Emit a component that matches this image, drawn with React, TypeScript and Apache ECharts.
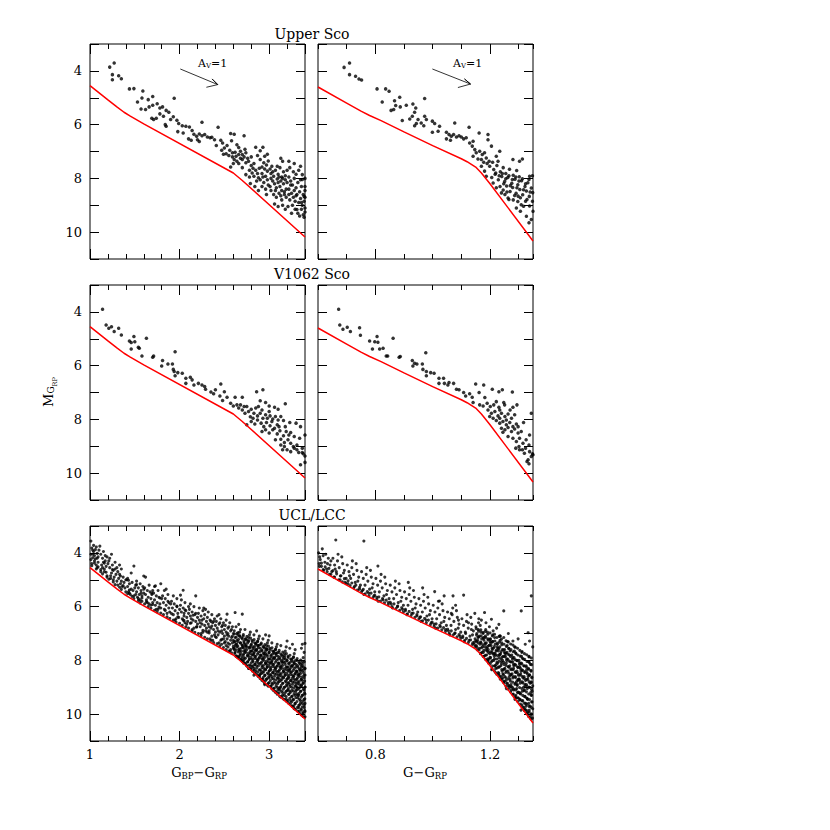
import React, { useEffect, useRef } from "react";
import * as echarts from "echarts";

const FONT = '"DejaVu Serif", "Liberation Serif", serif';

const panelTitles = ["Upper Sco", "V1062 Sco", "UCL/LCC"];
const xRangeBpRp = [1, 3.4];
const xRangeGRp = [0.6, 1.35];
const yRange = [3, 11];
const xTickLabelsBpRp = [1, 2, 3];
const xTickLabelsGRp = [0.8, 1.2];
const yTickLabels = [4, 6, 8, 10];

// red reference sequence, flat (colour, M_GRP)
const isoBpRp = [1.0, 4.55, 1.2, 5.08, 1.3, 5.34, 1.38, 5.54, 1.45, 5.68, 1.6, 5.97, 2.6, 7.8, 2.7, 8.08, 3.4, 10.18];
const isoGRp = [0.6, 4.6, 0.7, 5.2, 0.75, 5.5, 0.78, 5.66, 0.82, 5.85, 0.9, 6.27, 1.0, 6.78, 1.1, 7.27, 1.12, 7.38, 1.15, 7.58, 1.17, 7.8, 1.2, 8.2, 1.35, 10.33];

// A_V = 1 reddening vector: start, tip, head, tip, head
const avArrowBpRp = [2.008, 3.93, 2.426, 4.51, 2.363, 4.3, 2.426, 4.51, 2.299, 4.61];
const avArrowGRp = [0.999, 3.93, 1.132, 4.49, 1.111, 4.3, 1.132, 4.49, 1.088, 4.62];

const uscoBpRp = [
  1.22,3.86, 1.27,3.71, 1.25,4.14, 1.25,4.33, 1.32,4.18, 1.35,4.29,
  1.44,4.67, 1.49,4.66, 1.59,4.75, 1.53,5.16, 1.58,5.01, 1.65,5.07, 1.7,4.95,
  1.57,5.42, 1.62,5.44, 1.66,5.34, 1.7,5.28, 1.75,5.22, 1.78,5.38, 1.81,5.34, 1.85,5.47, 1.88,5.54, 1.94,5.02,
  1.69,5.76, 1.71,5.81, 1.74,5.76, 1.78,5.6, 1.82,5.69, 1.9,5.81, 1.93,5.71, 1.97,5.84, 1.84,6.0, 1.85,6.06,
  1.99,5.96, 2.03,6.04, 2.07,6.06, 2.11,6.09, 2.25,5.91, 2.43,6.1, 1.98,6.26, 2.04,6.31, 2.14,6.22, 2.16,6.36,
  2.19,6.43, 2.22,6.35, 2.25,6.41, 2.28,6.37, 2.31,6.46, 2.34,6.49, 2.36,6.47, 2.39,6.56, 2.2,6.56, 2.22,6.63,
  2.1,6.53, 2.13,6.58, 2.46,6.58, 2.48,6.68, 2.41,6.78,
  2.5,6.87, 2.53,6.78, 2.56,6.95, 2.59,7.05, 2.52,7.08, 2.62,7.03, 2.66,7.11, 2.68,6.99, 2.7,7.11, 2.72,7.2,
  2.7,7.3, 2.64,7.36, 2.66,7.45, 2.74,7.42, 2.59,7.2, 2.61,7.3, 2.57,6.33, 2.61,6.36, 2.72,6.41, 2.55,7.15,
  2.63,7.18, 2.68,7.25, 2.74,7.05, 2.76,7.25, 2.6,7.45, 2.57,7.58, 2.7,7.6, 2.74,7.86, 2.78,7.7, 2.66,6.85,
  2.73,6.92, 2.47,6.95, 2.49,7.1, 2.58,6.6, 2.64,6.75,
  2.77,7.36, 2.8,7.52, 2.83,7.45, 2.85,6.84, 2.9,6.97, 2.93,6.84, 2.87,7.15, 2.9,7.3, 2.94,7.42, 2.92,7.58,
  2.79,8.19, 2.83,7.92, 2.87,7.82, 2.88,7.98, 2.92,7.82, 2.96,7.92, 2.98,7.73, 2.8,7.2, 2.82,7.62, 2.85,7.7,
  2.89,7.62, 2.95,7.65, 2.97,7.5, 2.99,7.35, 2.86,8.1, 2.9,8.05, 2.94,8.15, 2.98,8.05, 2.92,8.3, 2.96,8.4,
  2.99,8.25, 2.78,7.95, 2.84,8.3, 2.88,8.45, 2.81,7.8, 2.93,7.95, 2.97,8.6, 2.95,7.18, 2.98,7.1,
  3.01,7.65, 3.02,7.82, 3.05,7.92, 3.09,8.02, 3.13,8.1, 3.15,7.36, 3.22,7.36, 3.13,7.25, 3.03,7.55, 3.07,7.7,
  3.1,7.85, 3.12,7.6, 3.16,7.75, 3.18,7.9, 3.04,8.1, 3.06,8.2, 3.08,8.35, 3.1,8.15, 3.12,8.3, 3.14,8.45,
  3.16,8.2, 3.18,8.05, 3.2,8.15, 3.02,8.45, 3.05,8.6, 3.08,8.7, 3.11,8.55, 3.14,8.8, 3.17,8.6, 3.19,8.4,
  3.06,8.95, 3.1,9.05, 3.15,9.0, 3.18,9.15, 3.02,8.0, 3.04,7.75, 3.11,7.95, 3.15,8.0, 3.17,8.5, 3.2,7.7,
  3.19,8.7, 3.13,8.65, 3.07,8.45, 3.01,8.3, 3.09,7.55, 3.14,7.95,
  3.22,7.95, 3.24,8.1, 3.26,8.25, 3.28,8.0, 3.3,8.35, 3.32,8.15, 3.34,8.5, 3.36,8.3, 3.38,8.6, 3.4,8.45,
  3.22,8.4, 3.25,8.55, 3.27,8.7, 3.29,8.85, 3.31,8.6, 3.33,8.9, 3.35,8.75, 3.37,9.0, 3.39,8.85, 3.4,9.1,
  3.23,8.8, 3.26,9.0, 3.29,9.15, 3.32,9.3, 3.36,9.15, 3.38,9.35, 3.4,9.25, 3.23,7.6, 3.27,7.75, 3.3,7.85,
  3.33,7.7, 3.37,7.86, 3.37,8.04, 3.39,8.67, 3.31,9.16, 3.35,7.55, 3.4,8.0, 3.4,8.3, 3.4,8.7, 3.24,8.25,
  3.28,8.45, 3.35,8.05, 3.3,8.65, 3.21,9.05, 3.25,9.3, 3.34,9.4, 3.39,9.45, 3.28,7.45, 3.22,8.6, 3.36,8.9
];

const uscoGRp = [
  0.691,3.87, 0.71,3.71, 0.71,4.14, 0.731,4.2, 0.743,4.3, 0.752,4.34,
  0.806,4.67, 0.836,4.67, 0.848,4.76, 0.824,5.16, 0.867,5.11, 0.885,4.98, 0.871,5.29, 0.887,5.34, 0.855,5.47, 0.864,5.44,
  0.908,5.28, 0.931,5.23, 0.941,5.38, 0.937,5.54, 0.972,5.03, 0.894,5.85, 0.92,5.79, 0.929,5.69, 0.949,5.81, 0.943,5.96,
  0.96,5.94, 0.937,6.04, 0.972,5.69, 0.978,5.81, 0.969,6.04, 0.999,5.87, 1.007,5.96, 1.024,6.06, 1.077,5.94, 1.127,6.1,
  0.999,6.28, 1.019,6.25, 1.048,6.28, 1.057,6.37, 1.065,6.43, 1.073,6.37, 1.083,6.46, 1.092,6.41, 1.1,6.46, 1.108,6.53,
  1.117,6.49, 1.048,6.53, 1.062,6.58, 1.129,6.68, 1.141,6.62, 1.162,6.31, 1.193,6.37, 1.193,6.56, 1.205,6.8, 1.138,6.8,
  1.147,6.93, 1.152,7.05, 1.164,6.99, 1.173,7.11, 1.181,7.05, 1.141,7.18, 1.158,7.28, 1.17,7.3, 1.187,7.24, 1.197,7.36,
  1.222,7.18, 1.228,7.36, 1.234,6.99, 1.28,7.3, 1.303,7.36, 1.313,7.28, 1.338,7.92, 1.348,7.9,
  1.199,7.55, 1.213,7.67, 1.224,7.52, 1.236,7.75, 1.246,7.6, 1.255,7.82, 1.268,7.66, 1.281,7.88, 1.293,7.71, 1.302,7.94,
  1.206,7.97, 1.218,7.85, 1.229,8.05, 1.241,7.93, 1.251,8.12, 1.262,7.97, 1.276,8.18, 1.287,8.03, 1.297,8.24, 1.31,8.09,
  1.322,8.3, 1.332,8.16, 1.344,8.36, 1.235,8.3, 1.246,8.43, 1.258,8.28, 1.27,8.49, 1.279,8.34, 1.291,8.55, 1.304,8.41,
  1.314,8.61, 1.327,8.47, 1.337,8.67, 1.349,8.53, 1.263,8.73, 1.281,8.8, 1.297,8.86, 1.309,8.98, 1.324,8.85, 1.338,9.03,
  1.292,9.1, 1.306,9.22, 1.327,9.41, 1.336,9.65, 1.344,9.53, 1.266,8.79, 1.252,8.6, 1.24,8.54, 1.222,8.35, 1.211,8.17,
  1.187,7.92, 1.181,7.73, 1.17,7.55, 1.178,7.4, 1.19,7.45, 1.209,7.4, 1.22,7.8, 1.232,7.9, 1.243,7.82, 1.255,8.01,
  1.266,7.9, 1.278,8.04, 1.29,7.95, 1.301,8.1, 1.313,8.01, 1.324,8.2, 1.336,8.04, 1.34,8.51, 1.317,8.42, 1.294,8.35,
  1.271,8.27, 1.248,8.2, 1.259,8.51, 1.286,8.64, 1.306,8.72, 1.329,8.79, 1.348,8.85, 1.317,9.04, 1.298,8.66, 1.35,9.22
];

const v1062BpRp = [
  1.14,3.9, 1.18,4.49, 1.21,4.61, 1.24,4.55, 1.27,4.73, 1.32,4.61, 1.35,4.86, 1.44,5.08, 1.46,5.14, 1.49,4.92,
  1.5,5.11, 1.46,5.38, 1.54,5.32, 1.55,5.35, 1.63,4.98, 1.58,5.64, 1.7,5.69, 1.71,5.64, 1.95,5.48, 1.81,5.81,
  1.8,6.01, 1.87,5.94, 1.92,5.94, 1.93,6.14, 1.94,6.22, 1.95,6.38, 1.98,6.26, 2.03,6.28, 2.07,6.47, 2.12,6.43,
  2.14,6.53, 2.07,6.66, 2.16,6.72, 2.21,6.66, 2.25,6.72, 2.28,6.78, 2.29,6.88, 2.35,6.98, 2.38,7.05, 2.4,6.9,
  2.46,6.68, 2.45,7.13, 2.5,6.97, 2.48,7.3, 2.53,7.18, 2.62,7.18, 2.7,7.18, 2.57,7.4, 2.6,7.5, 2.64,7.46,
  2.68,7.46, 2.66,7.58, 2.7,7.65, 2.72,7.52, 2.75,8.2, 2.77,7.71, 2.8,7.62, 2.85,7.58, 2.86,6.97, 2.93,6.9,
  2.9,7.31, 2.96,7.37, 3.0,7.5, 3.06,7.55, 3.1,7.62, 3.18,7.42, 2.79,7.9, 2.83,7.77, 2.87,7.87, 2.9,7.77,
  2.93,7.96, 2.96,7.83, 2.98,7.96, 3.01,7.87, 3.04,7.99, 3.07,7.89, 3.1,8.02, 3.13,7.89, 3.16,8.04, 3.23,8.12,
  2.8,8.08, 2.84,8.17, 2.87,8.02, 2.91,8.14, 2.94,8.27, 2.97,8.12, 3.01,8.24, 3.04,8.39, 2.92,8.45, 2.96,8.39,
  3.0,8.51, 3.06,8.33, 3.09,8.54, 3.12,8.42, 3.16,8.61, 3.19,8.45, 3.22,8.58, 3.24,8.49, 3.13,8.74, 3.17,8.86,
  3.21,8.76, 3.13,8.95, 3.15,9.13, 3.17,9.01, 3.2,9.13, 3.24,9.2, 3.28,9.07, 3.31,9.13, 3.33,9.23, 3.37,9.23,
  3.4,9.36, 3.38,9.28, 3.35,9.69, 3.4,9.6, 3.4,8.58, 3.34,8.7, 3.35,8.27, 3.3,8.14, 3.27,9.01, 3.24,8.89,
  3.09,8.2, 3.03,8.08, 3.0,7.71, 2.92,7.65, 2.88,7.52, 2.75,7.52, 2.73,7.77, 2.82,7.96, 3.07,8.76, 3.11,8.27,
  3.18,8.27, 3.28,8.64, 3.31,8.95, 3.37,9.07
];

const v1062GRp = [
  0.672,3.9, 0.676,4.49, 0.687,4.65, 0.702,4.57, 0.713,4.73, 0.745,4.59, 0.748,4.87, 0.78,5.08, 0.79,5.38, 0.798,5.11,
  0.806,4.92, 0.809,5.13, 0.815,5.38, 0.827,5.35, 0.838,5.64, 0.843,5.64, 0.862,4.98, 0.883,5.69, 0.887,5.66, 0.929,5.81,
  0.931,6.01, 0.937,5.91, 0.945,5.94, 0.964,5.94, 0.976,5.52, 0.966,6.14, 0.978,6.22, 0.978,6.38, 0.993,6.26, 1.005,6.28,
  1.022,6.47, 1.038,6.47, 1.022,6.66, 1.041,6.66, 1.053,6.72, 1.057,6.63, 1.073,6.66, 1.083,6.88, 1.092,6.9, 1.108,7.0,
  1.115,7.13, 1.129,7.05, 1.138,7.18, 1.15,6.68, 1.178,6.72, 1.162,7.0, 1.182,7.19, 1.208,6.88, 1.231,6.97, 1.243,6.9,
  1.278,6.98, 1.141,7.37, 1.164,7.46, 1.176,7.5, 1.19,7.4, 1.201,7.52, 1.213,7.46, 1.222,7.34, 1.231,7.55, 1.248,7.37,
  1.251,7.46, 1.28,7.55, 1.294,7.46, 1.193,7.65, 1.205,7.77, 1.217,7.71, 1.228,7.87, 1.24,7.77, 1.252,7.89, 1.263,7.8,
  1.275,7.96, 1.286,7.83, 1.222,8.04, 1.234,8.14, 1.245,8.08, 1.257,8.2, 1.269,8.12, 1.28,8.27, 1.292,8.17, 1.24,8.33,
  1.252,8.39, 1.263,8.3, 1.275,8.45, 1.286,8.36, 1.298,8.51, 1.309,8.45, 1.317,8.12, 1.338,8.58, 1.344,7.77, 1.28,8.7,
  1.292,8.82, 1.303,8.7, 1.315,8.89, 1.326,8.76, 1.336,8.95, 1.29,9.07, 1.301,9.01, 1.313,9.13, 1.324,9.07, 1.338,9.2,
  1.348,9.28, 1.344,9.38, 1.35,9.32, 1.329,9.57, 1.336,9.65, 1.333,9.5, 1.257,8.02, 1.211,7.96, 1.199,7.89, 1.234,7.65,
  1.27,7.65, 1.263,8.64, 1.298,8.27, 1.303,9.13, 1.32,9.26, 1.234,7.96, 1.245,8.48
];

const uclBpRp = [
  1.01,3.56, 1.02,3.82, 1.04,3.95, 1.01,4.05, 1.06,3.88, 1.03,4.18, 1.08,4.02, 1.05,4.3, 1.09,4.15, 1.02,4.4,
  1.07,4.45, 1.04,3.72, 1.09,4.35, 1.06,4.22, 1.1,3.9, 1.01,4.25, 1.08,4.55, 1.03,3.9, 1.05,4.1, 1.07,3.78,
  1.11,3.75, 1.12,4.05, 1.14,4.2, 1.13,4.45, 1.15,3.95, 1.16,4.6, 1.17,4.3, 1.18,4.5, 1.19,4.15, 1.12,4.7,
  1.15,4.35, 1.18,4.72, 1.2,4.4, 1.14,4.55, 1.17,4.1, 1.19,4.85,
  1.21,4.3, 1.22,4.55, 1.24,4.75, 1.23,4.95, 1.25,4.45, 1.26,4.65, 1.27,4.9, 1.28,4.6, 1.29,4.8, 1.22,4.2,
  1.26,5.0, 1.3,4.55, 1.24,4.05, 1.28,4.35,
  1.31,4.7, 1.32,4.95, 1.34,5.15, 1.33,4.8, 1.35,5.05, 1.36,5.25, 1.37,4.9, 1.38,5.1, 1.39,5.3, 1.31,5.2,
  1.35,4.6, 1.4,5.0, 1.33,4.45,
  1.41,5.0, 1.42,5.25, 1.43,5.45, 1.44,5.15, 1.46,5.35, 1.45,5.55, 1.47,5.1, 1.48,5.4, 1.49,5.6, 1.5,5.3,
  1.42,4.95, 1.46,4.75, 1.49,4.49, 1.44,5.5,
  1.51,5.2, 1.52,5.45, 1.53,5.65, 1.54,5.3, 1.55,5.55, 1.56,5.75, 1.57,5.4, 1.58,5.6, 1.59,5.25, 1.6,5.5,
  1.52,5.05, 1.56,5.15, 1.58,5.8, 1.6,4.86, 1.54,5.7, 1.57,5.5,
  1.61,5.3, 1.62,5.55, 1.63,5.75, 1.64,5.4, 1.65,5.65, 1.66,5.9, 1.67,5.45, 1.68,5.7, 1.69,5.55, 1.7,5.85,
  1.62,4.9, 1.66,5.2, 1.68,5.95, 1.64,5.85, 1.7,5.4,
  1.71,5.5, 1.72,5.75, 1.73,5.95, 1.74,5.6, 1.75,5.85, 1.76,6.1, 1.77,5.65, 1.78,5.9, 1.79,6.05, 1.8,5.7,
  1.72,5.25, 1.76,5.4, 1.79,5.15, 1.74,6.1, 1.73,5.23,
  1.81,5.6, 1.82,5.85, 1.83,6.1, 1.84,5.7, 1.85,5.95, 1.86,6.25, 1.87,5.8, 1.88,6.05, 1.89,6.2, 1.9,5.9,
  1.83,5.4, 1.87,5.55, 1.85,5.35,
  1.91,5.8, 1.92,6.05, 1.93,6.3, 1.94,5.9, 1.95,6.15, 1.96,6.45, 1.97,6.0, 1.98,6.25, 1.99,6.4, 2.0,6.1,
  1.93,5.6, 1.97,5.7, 2.01,5.57, 1.95,6.5,
  2.01,5.95, 2.02,6.2, 2.03,6.45, 2.04,6.05, 2.05,6.35, 2.06,6.6, 2.07,6.15, 2.08,6.4, 2.09,6.55, 2.1,6.25,
  2.02,5.75, 2.06,5.85, 2.08,6.65, 2.1,6.0, 2.04,6.5, 2.04,5.39, 2.05,6.25,
  2.11,6.1, 2.12,6.35, 2.13,6.6, 2.14,6.2, 2.15,6.5, 2.16,6.8, 2.17,6.3, 2.18,6.55, 2.19,6.75, 2.2,6.4,
  2.12,5.9, 2.16,6.0, 2.18,5.6, 2.14,6.85, 2.18,6.25, 2.2,6.65, 2.13,6.45,
  2.21,6.25, 2.22,6.5, 2.23,6.75, 2.24,6.35, 2.25,6.65, 2.26,6.95, 2.27,6.45, 2.28,6.7, 2.29,6.9, 2.3,6.55,
  2.22,6.05, 2.26,6.15, 2.29,6.1, 2.24,7.0, 2.28,6.3, 2.3,6.8, 2.23,6.6, 2.27,6.05,
  2.31,6.4, 2.32,6.65, 2.33,6.9, 2.34,6.5, 2.35,6.8, 2.36,7.1, 2.37,6.6, 2.38,6.85, 2.39,7.05, 2.4,6.7,
  2.32,6.2, 2.36,6.3, 2.39,6.45, 2.34,7.2, 2.38,6.55, 2.4,6.95, 2.33,6.75, 2.37,7.25, 2.31,6.95, 2.35,6.55,
  2.41,6.55, 2.42,6.8, 2.43,7.05, 2.44,6.65, 2.45,6.95, 2.46,7.25, 2.47,6.75, 2.48,7.0, 2.49,7.2, 2.5,6.85,
  2.42,6.35, 2.46,6.45, 2.49,6.6, 2.44,7.35, 2.48,6.7, 2.5,7.1, 2.43,6.9, 2.47,7.4, 2.41,7.15, 2.45,6.6,
  2.5,7.35, 2.44,6.3,
  2.51,6.7, 2.52,6.95, 2.53,7.2, 2.54,6.8, 2.55,7.1, 2.56,7.4, 2.57,6.9, 2.58,7.15, 2.59,7.35, 2.6,7.0,
  2.52,6.5, 2.56,6.6, 2.59,6.75, 2.54,7.5, 2.58,6.85, 2.6,7.25, 2.53,7.05, 2.57,7.6, 2.51,7.3, 2.55,6.75,
  2.6,7.55, 2.54,7.0, 2.57,7.25, 2.52,7.45, 2.53,6.28, 2.55,7.65,
  2.61,6.9, 2.62,7.15, 2.63,7.4, 2.64,7.0, 2.65,7.3, 2.66,7.6, 2.67,7.1, 2.68,7.35, 2.69,7.55, 2.7,7.2,
  2.62,7.7, 2.66,7.85, 2.69,7.95, 2.64,7.5, 2.68,7.75, 2.7,8.0, 2.63,7.85, 2.67,6.95, 2.61,7.6, 2.65,7.05,
  2.7,7.45, 2.64,7.25, 2.67,7.65, 2.62,7.45, 2.66,6.66, 2.62,6.22, 2.63,6.75, 2.68,6.85, 2.61,7.3, 2.65,7.9,
  2.71,7.1, 2.72,7.35, 2.73,7.6, 2.74,7.2, 2.75,7.5, 2.76,7.8, 2.77,7.3, 2.78,7.55, 2.79,7.75, 2.8,7.4,
  2.72,7.9, 2.76,8.05, 2.79,8.2, 2.74,7.7, 2.78,7.95, 2.8,8.3, 2.73,8.1, 2.77,7.15, 2.71,7.8, 2.75,7.25,
  2.8,7.65, 2.74,7.45, 2.77,7.85, 2.72,7.65, 2.7,6.28, 2.79,6.95, 2.73,6.85, 2.78,7.05, 2.71,7.5, 2.75,8.2,
  2.77,8.3, 2.73,7.4, 2.79,7.5, 2.71,8.05,
  2.81,7.25, 2.82,7.5, 2.83,7.75, 2.84,7.35, 2.85,7.65, 2.86,7.95, 2.87,7.45, 2.88,7.7, 2.89,7.9, 2.9,7.55,
  2.82,8.05, 2.86,8.2, 2.89,8.35, 2.84,7.85, 2.88,8.1, 2.9,8.5, 2.83,8.3, 2.87,7.3, 2.81,7.95, 2.85,7.4,
  2.9,7.8, 2.84,7.6, 2.87,8.0, 2.82,7.8, 2.86,6.9, 2.89,7.1, 2.83,7.05, 2.88,7.2, 2.81,7.65, 2.85,8.4,
  2.87,8.55, 2.83,8.55, 2.89,8.6, 2.81,8.2, 2.86,7.6, 2.84,8.15, 2.88,7.45,
  2.91,7.4, 2.92,7.65, 2.93,7.9, 2.94,7.5, 2.95,7.8, 2.96,8.1, 2.97,7.6, 2.98,7.85, 2.99,8.05, 3.0,7.7,
  2.92,8.2, 2.96,8.35, 2.99,8.5, 2.94,8.0, 2.98,8.25, 3.0,8.65, 2.93,8.45, 2.97,7.45, 2.91,8.1, 2.95,7.55,
  3.0,7.95, 2.94,7.75, 2.97,8.15, 2.92,7.95, 2.96,7.05, 2.99,7.25, 2.93,7.2, 2.98,7.35, 2.91,7.8, 2.95,8.55,
  2.97,8.7, 2.93,8.7, 2.99,8.85, 2.91,8.4, 2.96,7.75, 2.94,8.3, 2.98,7.6, 2.95,8.9, 3.0,8.4, 2.92,8.75,
  3.01,7.55, 3.02,7.8, 3.03,8.05, 3.04,7.65, 3.05,7.95, 3.06,8.25, 3.07,7.75, 3.08,8.0, 3.09,8.2, 3.1,7.85,
  3.02,8.35, 3.06,8.5, 3.09,8.65, 3.04,8.15, 3.08,8.4, 3.1,8.8, 3.03,8.6, 3.07,7.6, 3.01,8.25, 3.05,7.7,
  3.1,8.1, 3.04,7.9, 3.07,8.3, 3.02,8.1, 3.0,7.09, 3.09,7.4, 3.03,7.35, 3.08,7.5, 3.01,7.95, 3.05,8.7,
  3.07,8.85, 3.03,8.85, 3.09,9.0, 3.01,8.55, 3.06,7.9, 3.04,8.45, 3.08,7.75, 3.05,9.05, 3.1,8.55, 3.02,8.95,
  3.07,9.15, 3.09,9.2,
  3.11,7.7, 3.12,7.95, 3.13,8.2, 3.14,7.8, 3.15,8.1, 3.16,8.4, 3.17,7.9, 3.18,8.15, 3.19,8.35, 3.2,8.0,
  3.12,8.5, 3.16,8.65, 3.19,8.8, 3.14,8.3, 3.18,8.55, 3.2,8.95, 3.13,8.75, 3.17,7.75, 3.11,8.4, 3.15,7.85,
  3.2,8.25, 3.14,8.05, 3.17,8.45, 3.12,8.25, 3.2,7.28, 3.19,7.5, 3.13,7.45, 3.18,7.65, 3.11,8.1, 3.15,8.85,
  3.17,9.0, 3.13,9.0, 3.19,9.15, 3.11,8.7, 3.16,8.05, 3.14,8.6, 3.18,7.95, 3.15,9.2, 3.2,8.7, 3.12,9.1,
  3.17,9.3, 3.19,9.45, 3.14,9.35, 3.11,9.05,
  3.21,7.85, 3.22,8.1, 3.23,8.35, 3.24,7.95, 3.25,8.25, 3.26,8.55, 3.27,8.05, 3.28,8.3, 3.29,8.5, 3.3,8.15,
  3.22,8.65, 3.26,8.8, 3.29,8.95, 3.24,8.45, 3.28,8.7, 3.3,9.1, 3.23,8.9, 3.27,7.9, 3.21,8.55, 3.25,8.0,
  3.3,8.4, 3.24,8.2, 3.27,8.6, 3.22,8.4, 3.26,7.4, 3.29,7.6, 3.23,7.55, 3.28,7.75, 3.21,8.25, 3.25,9.0,
  3.27,9.15, 3.23,9.15, 3.29,9.3, 3.21,8.85, 3.26,8.2, 3.24,8.75, 3.28,8.1, 3.25,9.35, 3.3,8.85, 3.22,9.25,
  3.27,9.45, 3.29,9.6, 3.24,9.5, 3.21,9.1, 3.26,9.7, 3.28,9.8,
  3.31,8.0, 3.32,8.25, 3.33,8.5, 3.34,8.1, 3.35,8.4, 3.36,8.7, 3.37,8.2, 3.38,8.45, 3.39,8.65, 3.4,8.3,
  3.32,8.8, 3.36,8.95, 3.39,9.1, 3.34,8.6, 3.38,8.85, 3.4,9.25, 3.33,9.05, 3.37,8.05, 3.31,8.7, 3.35,8.15,
  3.4,8.55, 3.34,8.35, 3.37,8.75, 3.32,8.55, 3.36,7.55, 3.39,7.7, 3.37,7.4, 3.38,7.9, 3.31,8.4, 3.35,9.15,
  3.37,9.3, 3.33,9.3, 3.39,9.45, 3.31,9.0, 3.36,8.35, 3.34,8.9, 3.38,8.25, 3.35,9.5, 3.4,9.0, 3.32,9.4,
  3.37,9.6, 3.39,9.75, 3.34,9.65, 3.31,9.25, 3.36,9.85, 3.38,9.95, 3.4,9.6, 3.4,9.9, 3.33,9.75, 3.4,7.37
];

// extra UCL/LCC stars hugging the sequence and filling the dense red end (BP-RP)
const uclBpRpDense = [
  1.02,4.48, 1.05,4.38, 1.07,4.6, 1.09,4.52, 1.12,4.62, 1.14,4.78, 1.16,4.7, 1.19,4.9, 1.21,4.98, 1.23,4.85,
  1.26,5.08, 1.28,5.18, 1.3,5.05, 1.33,5.28, 1.35,5.36, 1.37,5.22, 1.4,5.45, 1.42,5.52, 1.44,5.38, 1.47,5.62,
  1.49,5.7, 1.51,5.55, 1.54,5.78, 1.56,5.86, 1.58,5.68, 1.61,5.9, 1.63,5.82, 1.65,6.0, 1.68,6.06, 1.7,5.92,
  1.72,6.14, 1.75,6.2, 1.77,6.02, 1.79,6.24, 1.82,6.3, 1.84,6.14, 1.86,6.38, 1.89,6.44, 1.91,6.26, 1.93,6.5,
  1.96,6.58, 1.98,6.38, 2.0,6.62, 2.03,6.7, 2.05,6.52, 2.07,6.75, 2.1,6.8, 2.12,6.62, 2.14,6.9, 2.17,6.96,
  2.19,6.76, 2.21,7.0, 2.24,7.08, 2.26,6.88, 2.28,7.14, 2.31,7.2, 2.33,6.98, 2.35,7.26, 2.38,7.34, 2.4,7.12,
  2.42,7.38, 2.45,7.46, 2.47,7.22, 2.49,7.52, 2.52,7.6, 2.54,7.36, 2.56,7.66, 2.58,7.72, 2.6,7.48, 2.59,7.1,
  2.47,6.9, 2.36,6.72, 2.25,6.5, 2.15,6.32, 2.06,6.12, 1.97,5.98, 1.88,5.85, 1.78,5.68, 1.69,5.5, 1.6,5.35,
  1.52,5.18, 1.43,5.02, 1.34,4.86, 1.25,4.62, 1.16,4.38, 1.08,4.2, 1.03,4.05,
  2.612,7.02, 2.618,7.31, 2.61,7.55, 2.616,7.74, 2.632,7.14, 2.638,7.4, 2.63,7.62, 2.636,7.83,
  2.652,6.97, 2.658,7.22, 2.65,7.47, 2.656,7.69, 2.66,7.9, 2.672,7.09, 2.678,7.35, 2.67,7.57, 2.676,7.8, 2.68,7.97,
  2.692,7.16, 2.698,7.43, 2.69,7.66, 2.696,7.87, 2.7,8.04, 2.712,7.04, 2.718,7.29, 2.71,7.53, 2.716,7.76, 2.72,7.97, 2.714,8.1,
  2.732,7.21, 2.738,7.47, 2.73,7.69, 2.736,7.92, 2.74,8.13, 2.752,7.11, 2.758,7.36, 2.75,7.6, 2.756,7.83, 2.76,8.05, 2.754,8.22,
  2.772,7.26, 2.778,7.51, 2.77,7.73, 2.776,7.97, 2.78,8.17, 2.774,8.3, 2.792,7.17, 2.798,7.43, 2.79,7.66, 2.796,7.89, 2.8,8.09, 2.794,8.32,
  2.812,7.31, 2.818,7.56, 2.81,7.79, 2.816,8.01, 2.82,8.23, 2.814,8.4, 2.832,7.23, 2.838,7.49, 2.83,7.71, 2.836,7.93, 2.84,8.15, 2.834,8.36, 2.838,8.47,
  2.852,7.37, 2.858,7.61, 2.85,7.85, 2.856,8.07, 2.86,8.29, 2.854,8.51, 2.872,7.29, 2.878,7.53, 2.87,7.77, 2.876,7.99, 2.88,8.21, 2.874,8.43, 2.878,8.6,
  2.892,7.43, 2.898,7.67, 2.89,7.91, 2.896,8.13, 2.9,8.35, 2.894,8.56, 2.898,8.67, 2.912,7.36, 2.918,7.61, 2.91,7.83, 2.916,8.06, 2.92,8.27, 2.914,8.49, 2.918,8.71,
  2.932,7.49, 2.938,7.73, 2.93,7.96, 2.936,8.19, 2.94,8.41, 2.934,8.63, 2.938,8.79, 2.952,7.41, 2.958,7.66, 2.95,7.89, 2.956,8.11, 2.96,8.33, 2.954,8.56, 2.958,8.76, 2.95,8.86,
  2.972,7.56, 2.978,7.79, 2.97,8.03, 2.976,8.25, 2.98,8.47, 2.974,8.69, 2.978,8.91, 2.992,7.47, 2.998,7.71, 2.99,7.95, 2.996,8.17, 3.0,8.39, 2.994,8.61, 2.998,8.83, 2.99,8.96,
  3.012,7.61, 3.018,7.85, 3.01,8.09, 3.016,8.31, 3.02,8.53, 3.014,8.75, 3.018,8.97, 3.032,7.53, 3.038,7.77, 3.03,8.01, 3.036,8.23, 3.04,8.45, 3.034,8.67, 3.038,8.89, 3.03,9.06,
  3.052,7.66, 3.058,7.91, 3.05,8.15, 3.056,8.37, 3.06,8.59, 3.054,8.81, 3.058,9.03, 3.05,9.13, 3.072,7.59, 3.078,7.83, 3.07,8.07, 3.076,8.29, 3.08,8.51, 3.074,8.73, 3.078,8.95, 3.07,9.19,
  3.092,7.71, 3.098,7.96, 3.09,8.21, 3.096,8.43, 3.1,8.65, 3.094,8.87, 3.098,9.09, 3.09,9.26, 3.112,7.63, 3.118,7.89, 3.11,8.13, 3.116,8.35, 3.12,8.57, 3.114,8.79, 3.118,9.01, 3.11,9.21, 3.116,9.33,
  3.132,7.77, 3.138,8.01, 3.13,8.26, 3.136,8.49, 3.14,8.71, 3.134,8.93, 3.138,9.15, 3.13,9.37, 3.152,7.69, 3.158,7.95, 3.15,8.19, 3.156,8.41, 3.16,8.63, 3.154,8.85, 3.158,9.07, 3.15,9.29, 3.156,9.43,
  3.172,7.83, 3.178,8.07, 3.17,8.31, 3.176,8.55, 3.18,8.77, 3.174,8.99, 3.178,9.21, 3.17,9.46, 3.192,7.75, 3.198,8.01, 3.19,8.25, 3.196,8.47, 3.2,8.69, 3.194,8.91, 3.198,9.13, 3.19,9.35, 3.196,9.53,
  3.212,7.89, 3.218,8.13, 3.21,8.37, 3.216,8.61, 3.22,8.83, 3.214,9.05, 3.218,9.27, 3.21,9.49, 3.216,9.59, 3.232,7.81, 3.238,8.07, 3.23,8.31, 3.236,8.53, 3.24,8.75, 3.234,8.97, 3.238,9.19, 3.23,9.41, 3.236,9.63,
  3.252,7.95, 3.258,8.19, 3.25,8.43, 3.256,8.67, 3.26,8.89, 3.254,9.11, 3.258,9.33, 3.25,9.55, 3.256,9.71, 3.272,7.87, 3.278,8.13, 3.27,8.37, 3.276,8.59, 3.28,8.81, 3.274,9.03, 3.278,9.25, 3.27,9.47, 3.276,9.69, 3.28,9.79,
  3.292,8.01, 3.298,8.25, 3.29,8.49, 3.296,8.73, 3.3,8.95, 3.294,9.17, 3.298,9.39, 3.29,9.61, 3.296,9.83, 3.312,7.93, 3.318,8.19, 3.31,8.43, 3.316,8.65, 3.32,8.87, 3.314,9.09, 3.318,9.31, 3.31,9.53, 3.316,9.75, 3.32,9.89,
  3.332,8.07, 3.338,8.31, 3.33,8.55, 3.336,8.79, 3.34,9.01, 3.334,9.23, 3.338,9.45, 3.33,9.67, 3.336,9.89, 3.34,9.97, 3.352,7.99, 3.358,8.25, 3.35,8.49, 3.356,8.71, 3.36,8.93, 3.354,9.15, 3.358,9.37, 3.35,9.59, 3.356,9.81, 3.36,10.03,
  3.372,8.13, 3.378,8.37, 3.37,8.61, 3.376,8.85, 3.38,9.07, 3.374,9.29, 3.378,9.51, 3.37,9.73, 3.376,9.95, 3.38,10.09, 3.392,8.05, 3.398,8.31, 3.39,8.55, 3.396,8.77, 3.4,8.99, 3.394,9.21, 3.398,9.43, 3.39,9.65, 3.396,9.87, 3.4,10.1
];

const uclGRp = [
  0.602,4.0, 0.608,4.25, 0.612,4.5, 0.618,4.1, 0.624,4.35, 0.63,4.6, 0.636,4.2, 0.642,4.45, 0.648,4.7, 0.604,4.4,
  0.615,3.85, 0.627,4.05, 0.64,4.8, 0.645,4.3, 0.606,4.15, 0.633,4.4, 0.62,4.65, 0.662,3.52,
  0.652,4.2, 0.658,4.45, 0.664,4.7, 0.668,4.3, 0.674,4.55, 0.68,4.85, 0.686,4.4, 0.692,4.65, 0.698,4.95, 0.655,4.9,
  0.67,4.05, 0.683,4.15, 0.695,5.1, 0.66,4.6, 0.689,4.75, 0.677,5.0,
  0.702,4.45, 0.708,4.7, 0.714,4.95, 0.718,4.55, 0.724,4.8, 0.73,5.1, 0.736,4.65, 0.742,4.9, 0.748,5.2, 0.705,5.15,
  0.72,4.3, 0.733,4.4, 0.745,5.35, 0.71,4.85, 0.739,5.05, 0.727,5.25,
  0.752,4.7, 0.758,4.95, 0.764,5.2, 0.768,4.8, 0.774,5.05, 0.78,5.35, 0.786,4.9, 0.792,5.15, 0.798,5.45, 0.755,5.4,
  0.77,4.55, 0.783,4.65, 0.795,5.6, 0.76,5.55, 0.789,5.3, 0.777,5.5, 0.76,3.56, 0.809,4.49,
  0.802,4.95, 0.808,5.2, 0.814,5.45, 0.818,5.05, 0.824,5.3, 0.83,5.6, 0.836,5.15, 0.842,5.4, 0.848,5.7, 0.805,5.65,
  0.82,4.8, 0.833,4.9, 0.845,5.85, 0.81,5.8, 0.839,5.55, 0.827,5.75,
  0.852,5.2, 0.858,5.45, 0.864,5.7, 0.868,5.3, 0.874,5.55, 0.88,5.85, 0.886,5.4, 0.892,5.65, 0.898,5.95, 0.855,5.9,
  0.87,5.05, 0.883,5.15, 0.895,6.1, 0.86,6.05, 0.889,5.8, 0.877,6.0,
  0.902,5.45, 0.908,5.7, 0.914,5.95, 0.918,5.55, 0.924,5.8, 0.93,6.1, 0.936,5.65, 0.942,5.9, 0.948,6.2, 0.905,6.15,
  0.92,5.3, 0.933,5.4, 0.945,6.35, 0.91,6.3, 0.939,6.05, 0.927,6.25, 0.915,5.1,
  0.952,5.7, 0.958,5.95, 0.964,6.2, 0.968,5.8, 0.974,6.05, 0.98,6.35, 0.986,5.9, 0.992,6.15, 0.998,6.45, 0.955,6.4,
  0.97,5.55, 0.983,5.65, 0.995,6.6, 0.96,6.55, 0.989,6.3, 0.977,6.5, 0.965,5.3,
  1.002,5.95, 1.008,6.2, 1.014,6.45, 1.018,6.05, 1.024,6.3, 1.03,6.6, 1.036,6.15, 1.042,6.4, 1.048,6.7, 1.005,6.65,
  1.02,5.8, 1.033,5.9, 1.045,6.85, 1.01,6.8, 1.039,6.55, 1.027,6.75, 1.007,5.44, 1.024,5.79, 1.04,5.6,
  1.052,6.2, 1.058,6.45, 1.064,6.7, 1.068,6.3, 1.074,6.55, 1.08,6.85, 1.086,6.4, 1.092,6.65, 1.098,6.95, 1.055,6.9,
  1.07,6.05, 1.083,6.15, 1.095,7.1, 1.06,7.05, 1.089,6.8, 1.077,7.0, 1.071,5.6, 1.065,6.25, 1.09,6.5, 1.08,5.95,
  1.102,6.45, 1.108,6.7, 1.114,6.95, 1.118,6.55, 1.124,6.8, 1.13,7.1, 1.136,6.65, 1.142,6.9, 1.148,7.2, 1.105,7.15,
  1.12,6.3, 1.133,6.4, 1.145,7.4, 1.11,7.3, 1.139,7.05, 1.127,7.25, 1.108,5.57, 1.115,7.0, 1.14,7.35, 1.125,6.6,
  1.147,6.25, 1.135,6.85,
  1.151,6.75, 1.154,7.0, 1.157,7.25, 1.159,6.85, 1.162,7.1, 1.165,7.4, 1.168,6.95, 1.171,7.2, 1.174,7.5, 1.152,7.45,
  1.16,6.6, 1.166,6.7, 1.172,7.7, 1.155,7.6, 1.169,7.35, 1.163,7.55, 1.158,7.15, 1.17,6.5, 1.153,7.3, 1.167,7.75,
  1.161,6.45,
  1.176,7.0, 1.179,7.25, 1.182,7.5, 1.184,7.1, 1.187,7.35, 1.19,7.65, 1.193,7.2, 1.196,7.45, 1.199,7.75, 1.177,7.7,
  1.185,6.85, 1.191,6.95, 1.197,7.95, 1.18,7.85, 1.194,7.6, 1.188,7.8, 1.183,7.4, 1.195,8.1, 1.178,7.15, 1.192,8.0,
  1.186,6.6, 1.181,6.22, 1.198,6.75, 1.189,7.55, 1.2,7.3,
  1.201,7.2, 1.204,7.45, 1.207,7.7, 1.209,7.3, 1.212,7.55, 1.215,7.85, 1.218,7.4, 1.221,7.65, 1.224,7.95, 1.202,7.9,
  1.21,7.05, 1.216,7.15, 1.222,8.15, 1.205,8.05, 1.219,7.8, 1.213,8.0, 1.208,7.6, 1.22,8.3, 1.203,7.35, 1.217,8.2,
  1.211,6.9, 1.205,6.47, 1.223,6.8, 1.214,7.75, 1.225,7.5, 1.206,8.35, 1.219,8.45,
  1.226,7.4, 1.229,7.65, 1.232,7.9, 1.234,7.5, 1.237,7.75, 1.24,8.05, 1.243,7.6, 1.246,7.85, 1.249,8.15, 1.227,8.1,
  1.235,7.25, 1.241,7.35, 1.247,8.35, 1.23,8.25, 1.244,8.0, 1.238,8.2, 1.233,7.8, 1.245,8.5, 1.228,7.55, 1.242,8.4,
  1.236,7.1, 1.231,6.66, 1.234,7.09, 1.239,7.95, 1.25,7.7, 1.231,8.55, 1.244,8.65, 1.236,8.7, 1.248,8.8, 1.229,8.45,
  1.251,7.6, 1.254,7.85, 1.257,8.1, 1.259,7.7, 1.262,7.95, 1.265,8.25, 1.268,7.8, 1.271,8.05, 1.274,8.35, 1.252,8.3,
  1.26,7.45, 1.266,7.55, 1.272,8.55, 1.255,8.45, 1.269,8.2, 1.263,8.4, 1.258,8.0, 1.27,8.7, 1.253,7.75, 1.267,8.6,
  1.261,7.3, 1.248,6.16, 1.264,7.0, 1.273,8.9, 1.256,8.75, 1.269,9.0, 1.261,8.85, 1.275,9.1, 1.257,9.05, 1.265,8.95,
  1.252,8.6, 1.27,7.65,
  1.276,7.8, 1.279,8.05, 1.282,8.3, 1.284,7.9, 1.287,8.15, 1.29,8.45, 1.293,8.0, 1.296,8.25, 1.299,8.55, 1.277,8.5,
  1.285,7.65, 1.291,7.75, 1.297,8.75, 1.28,8.65, 1.294,8.4, 1.288,8.6, 1.283,8.2, 1.295,8.9, 1.278,7.95, 1.292,8.8,
  1.286,7.5, 1.28,7.28, 1.298,7.2, 1.283,9.1, 1.296,9.2, 1.29,9.3, 1.278,9.0, 1.287,9.45, 1.299,9.4, 1.281,9.25,
  1.293,9.05, 1.288,8.85, 1.3,8.7,
  1.301,8.0, 1.304,8.25, 1.307,8.5, 1.309,8.1, 1.312,8.35, 1.315,8.65, 1.318,8.2, 1.321,8.45, 1.324,8.75, 1.302,8.7,
  1.31,7.85, 1.316,7.95, 1.322,8.95, 1.305,8.85, 1.319,8.6, 1.313,8.8, 1.308,8.4, 1.32,9.1, 1.303,8.15, 1.317,9.0,
  1.311,7.7, 1.309,6.16, 1.323,7.4, 1.306,9.25, 1.321,9.35, 1.314,9.5, 1.302,9.2, 1.311,9.65, 1.324,9.6, 1.305,9.45,
  1.318,9.75, 1.313,9.15, 1.325,9.85, 1.308,9.85,
  1.326,8.2, 1.329,8.45, 1.332,8.7, 1.334,8.3, 1.337,8.55, 1.34,8.85, 1.343,8.4, 1.346,8.65, 1.349,8.95, 1.327,8.9,
  1.335,8.05, 1.341,8.15, 1.347,9.15, 1.33,9.05, 1.344,8.8, 1.338,9.0, 1.333,8.6, 1.345,9.3, 1.328,8.35, 1.342,9.2,
  1.336,7.85, 1.338,7.28, 1.333,6.97, 1.344,5.6, 1.331,9.45, 1.346,9.55, 1.34,9.7, 1.328,9.4, 1.337,9.85, 1.349,9.8,
  1.332,9.95, 1.343,10.0, 1.348,10.15, 1.335,9.6, 1.341,10.1, 1.326,9.7, 1.349,7.5
];

// extra UCL/LCC stars hugging the sequence and filling the dense red end (G-GRP)
const uclGRpDense = [
  0.605,4.5, 0.612,4.38, 0.618,4.62, 0.625,4.52, 0.632,4.7, 0.638,4.58, 0.645,4.8, 0.652,4.66, 0.658,4.9, 0.665,4.78,
  0.672,5.0, 0.678,4.86, 0.685,5.08, 0.692,4.96, 0.698,5.14, 0.705,5.04, 0.712,5.22, 0.718,5.12, 0.725,5.3, 0.732,5.2,
  0.738,5.38, 0.745,5.28, 0.752,5.45, 0.758,5.36, 0.765,5.52, 0.772,5.44, 0.778,5.6, 0.785,5.5, 0.792,5.66, 0.798,5.58,
  0.805,5.73, 0.812,5.64, 0.818,5.79, 0.825,5.7, 0.832,5.86, 0.838,5.76, 0.845,5.93, 0.852,5.84, 0.858,6.0, 0.865,5.9,
  0.872,6.07, 0.878,5.98, 0.885,6.14, 0.892,6.04, 0.898,6.2, 0.905,6.1, 0.912,6.27, 0.918,6.18, 0.925,6.33, 0.932,6.24,
  0.938,6.4, 0.945,6.3, 0.952,6.46, 0.958,6.38, 0.965,6.53, 0.972,6.44, 0.978,6.6, 0.985,6.5, 0.992,6.67, 0.998,6.58,
  1.005,6.73, 1.012,6.64, 1.018,6.8, 1.025,6.7, 1.032,6.86, 1.038,6.78, 1.045,6.92, 1.052,6.84, 1.058,6.99, 1.065,6.9,
  1.072,7.05, 1.078,6.98, 1.085,7.12, 1.092,7.04, 1.098,7.18, 1.105,7.1, 1.112,7.25, 1.118,7.18, 1.125,7.33, 1.132,7.24,
  1.138,7.41, 1.145,7.32, 1.148,7.48,
  1.152,6.82, 1.153,7.06, 1.151,7.27, 1.154,7.5, 1.16,6.91, 1.161,7.13, 1.159,7.35, 1.162,7.61,
  1.168,6.86, 1.169,7.09, 1.167,7.32, 1.17,7.53, 1.168,7.74, 1.176,6.96, 1.177,7.17, 1.175,7.42, 1.178,7.63, 1.176,7.85,
  1.184,6.92, 1.185,7.15, 1.183,7.36, 1.186,7.61, 1.184,7.81, 1.185,7.97, 1.192,7.03, 1.193,7.24, 1.191,7.49, 1.194,7.7, 1.192,7.94, 1.193,8.04,
  1.2,6.98, 1.201,7.22, 1.199,7.43, 1.202,7.68, 1.2,7.89, 1.201,8.13, 1.208,7.09, 1.209,7.3, 1.207,7.55, 1.21,7.76, 1.208,8.01, 1.209,8.21, 1.207,8.31,
  1.216,7.03, 1.217,7.28, 1.215,7.49, 1.218,7.74, 1.216,7.95, 1.217,8.2, 1.215,8.39, 1.224,7.15, 1.225,7.36, 1.223,7.61, 1.226,7.82, 1.224,8.07, 1.225,8.28, 1.223,8.51,
  1.232,7.11, 1.233,7.32, 1.231,7.57, 1.234,7.78, 1.232,8.03, 1.233,8.24, 1.231,8.49, 1.234,8.61,
  1.24,7.21, 1.241,7.42, 1.239,7.67, 1.242,7.88, 1.24,8.13, 1.241,8.34, 1.239,8.59, 1.242,8.71,
  1.248,7.15, 1.249,7.4, 1.247,7.61, 1.25,7.86, 1.248,8.07, 1.249,8.32, 1.247,8.53, 1.25,8.78, 1.248,8.83,
  1.256,7.27, 1.257,7.48, 1.255,7.73, 1.258,7.94, 1.256,8.19, 1.257,8.4, 1.255,8.65, 1.258,8.86, 1.256,8.97,
  1.264,7.31, 1.265,7.56, 1.263,7.77, 1.266,8.02, 1.264,8.23, 1.265,8.48, 1.263,8.69, 1.266,8.94, 1.264,9.07,
  1.272,7.39, 1.273,7.6, 1.271,7.85, 1.274,8.06, 1.272,8.31, 1.273,8.52, 1.271,8.77, 1.274,8.98, 1.272,9.17,
  1.28,7.43, 1.281,7.68, 1.279,7.89, 1.282,8.14, 1.28,8.35, 1.281,8.6, 1.279,8.81, 1.282,9.06, 1.28,9.27,
  1.288,7.51, 1.289,7.72, 1.287,7.97, 1.29,8.18, 1.288,8.43, 1.289,8.64, 1.287,8.89, 1.29,9.1, 1.288,9.35, 1.289,9.41,
  1.296,7.55, 1.297,7.8, 1.295,8.01, 1.298,8.26, 1.296,8.47, 1.297,8.72, 1.295,8.93, 1.298,9.18, 1.296,9.39, 1.297,9.53,
  1.304,7.63, 1.305,7.84, 1.303,8.09, 1.306,8.3, 1.304,8.55, 1.305,8.76, 1.303,9.01, 1.306,9.22, 1.304,9.47, 1.305,9.63,
  1.312,7.67, 1.313,7.92, 1.311,8.13, 1.314,8.38, 1.312,8.59, 1.313,8.84, 1.311,9.05, 1.314,9.3, 1.312,9.51, 1.313,9.73,
  1.32,7.75, 1.321,7.96, 1.319,8.21, 1.322,8.42, 1.32,8.67, 1.321,8.88, 1.319,9.13, 1.322,9.34, 1.32,9.59, 1.321,9.8, 1.319,9.86,
  1.328,7.79, 1.329,8.04, 1.327,8.25, 1.33,8.5, 1.328,8.71, 1.329,8.96, 1.327,9.17, 1.33,9.42, 1.328,9.63, 1.329,9.88, 1.327,9.97,
  1.336,7.87, 1.337,8.08, 1.335,8.33, 1.338,8.54, 1.336,8.79, 1.337,9.0, 1.335,9.25, 1.338,9.46, 1.336,9.71, 1.337,9.92, 1.335,10.09,
  1.344,7.91, 1.345,8.16, 1.343,8.37, 1.346,8.62, 1.344,8.83, 1.345,9.08, 1.343,9.29, 1.346,9.54, 1.344,9.75, 1.345,10.0, 1.343,10.18
];

const LAYOUT = { left: [90, 318], top: [44, 285, 526], size: 215 };

function pairs(a: number[]): number[][] {
  const out: number[][] = [];
  for (let i = 0; i + 1 < a.length; i += 2) out.push([a[i], a[i + 1]]);
  return out;
}

function buildOption(): any {
  const grid: any[] = [];
  const xAxis: any[] = [];
  const yAxis: any[] = [];
  const series: any[] = [];
  const scat = [
    [uscoBpRp, uscoGRp],
    [v1062BpRp, v1062GRp],
    [uclBpRp.concat(uclBpRpDense), uclGRp.concat(uclGRpDense)]
  ];
  const tick = (len: number) => ({ show: true, inside: true, length: len, lineStyle: { color: "#000", width: 1 } });
  const lbl = { fontSize: 13, fontFamily: FONT, color: "#000" };

  for (let r = 0; r < 3; r++) {
    for (let c = 0; c < 2; c++) {
      const gi = grid.length;
      grid.push({
        left: LAYOUT.left[c], top: LAYOUT.top[r], width: LAYOUT.size, height: LAYOUT.size,
        show: true, borderColor: "#000", borderWidth: 1, backgroundColor: "rgba(0,0,0,0)"
      });
      const [xmin, xmax] = c === 0 ? xRangeBpRp : xRangeGRp;
      const common = {
        type: "value", gridIndex: gi, min: xmin, max: xmax,
        splitLine: { show: false }, axisLine: { show: false, onZero: false }
      };
      let mainX = -1;
      for (const pos of ["bottom", "top"]) {
        const showLabels = pos === "bottom" && r === 2;
        if (pos === "bottom") mainX = xAxis.length;
        if (c === 0) {
          xAxis.push({
            ...common, position: pos, interval: 1, axisTick: tick(10),
            axisLabel: {
              ...lbl, show: showLabels, margin: 7, showMinLabel: true, showMaxLabel: true,
              formatter: (v: number) => (xTickLabelsBpRp.indexOf(v) >= 0 ? String(v) : "")
            }
          });
        } else {
          xAxis.push({
            ...common, position: pos, interval: 0.1,
            axisTick: { ...tick(10), customValues: xTickLabelsGRp },
            axisLabel: { ...lbl, show: showLabels, margin: 7, customValues: xTickLabelsGRp, formatter: (v: number) => v.toFixed(1) }
          });
        }
        xAxis.push({
          ...common, position: pos, interval: c === 0 ? 0.2 : 0.1, axisTick: tick(5), axisLabel: { show: false }
        });
      }
      const mainY = yAxis.length;
      for (const pos of ["left", "right"]) {
        yAxis.push({
          type: "value", gridIndex: gi, position: pos, min: yRange[0], max: yRange[1], interval: 1, inverse: true,
          splitLine: { show: false }, axisLine: { show: false, onZero: false }, axisTick: tick(9),
          axisLabel: {
            ...lbl, show: pos === "left" && c === 0, margin: 8, showMinLabel: true, showMaxLabel: true,
            formatter: (v: number) => (yTickLabels.indexOf(v) >= 0 ? String(v) : "")
          }
        });
      }
      series.push({
        type: "scatter", xAxisIndex: mainX, yAxisIndex: mainY, data: pairs(scat[r][c]),
        symbol: "circle", symbolSize: r === 2 ? 3.1 : 3.5, itemStyle: { color: "#000" }, silent: true, z: 2
      });
      series.push({
        type: "line", xAxisIndex: mainX, yAxisIndex: mainY, data: pairs(c === 0 ? isoBpRp : isoGRp),
        showSymbol: false, symbol: "none", lineStyle: { color: "#ff0000", width: 1.5 }, silent: true, z: 3
      });
      if (r === 0) {
        series.push({
          type: "line", xAxisIndex: mainX, yAxisIndex: mainY, data: pairs(c === 0 ? avArrowBpRp : avArrowGRp),
          showSymbol: false, symbol: "none", lineStyle: { color: "#000", width: 0.8 }, silent: true, z: 3
        });
      }
    }
  }

  const sub = { fontSize: 8.5, fontFamily: FONT, lineHeight: 8, verticalAlign: "bottom", padding: [0, 0, 1, 0] };
  const main = { fontSize: 13, fontFamily: FONT, lineHeight: 18 };
  const graphic: any[] = [];
  const titleY = [34, 274, 515];
  panelTitles.forEach((t, i) => {
    graphic.push({
      type: "text", x: 312, y: titleY[i], silent: true,
      style: { text: t, fill: "#000", fontSize: 14, fontFamily: FONT, align: "center", verticalAlign: "middle" }
    });
  });
  graphic.push({
    type: "text", x: 199, y: 772, silent: true,
    style: { text: "{n|G}{s|BP}{n|\u2212G}{s|RP}", rich: { n: main, s: sub }, fill: "#000", align: "center", verticalAlign: "middle" }
  });
  graphic.push({
    type: "text", x: 425, y: 772, silent: true,
    style: { text: "{n|G\u2212G}{s|RP}", rich: { n: main, s: sub }, fill: "#000", align: "center", verticalAlign: "middle" }
  });
  graphic.push({
    type: "text", x: 48, y: 392, rotation: Math.PI / 2, silent: true,
    style: {
      text: "{m|M}{g|G}{r|RP}",
      rich: {
        m: { fontSize: 13, fontFamily: FONT, lineHeight: 20 },
        g: { fontSize: 9, fontFamily: FONT, lineHeight: 9, verticalAlign: "bottom", padding: [0, 0, 3, 0] },
        r: { fontSize: 6.5, fontFamily: FONT, lineHeight: 7, verticalAlign: "bottom" }
      },
      fill: "#000", align: "center", verticalAlign: "middle"
    }
  });
  const avRich = {
    n: { fontSize: 11, fontFamily: FONT, lineHeight: 15 },
    s: { fontSize: 7, fontFamily: FONT, lineHeight: 7, verticalAlign: "bottom", padding: [0, 0, 1, 0] }
  };
  [198, 453].forEach((x) => {
    graphic.push({
      type: "text", x, y: 63, silent: true,
      style: { text: "{n|A}{s|V}{n|=1}", rich: avRich, fill: "#000", align: "left", verticalAlign: "middle" }
    });
  });

  return { animation: false, backgroundColor: "#fff", grid, xAxis, yAxis, series, graphic };
}

export default function App() {
  const ref = useRef<HTMLDivElement>(null);
  useEffect(() => {
    if (!ref.current) return;
    const chart = echarts.init(ref.current, null, { renderer: "svg" });
    chart.setOption(buildOption());
    return () => chart.dispose();
  }, []);
  return <div ref={ref} style={{ position: "absolute", left: 0, top: 0, width: 830, height: 830 }} />;
}
